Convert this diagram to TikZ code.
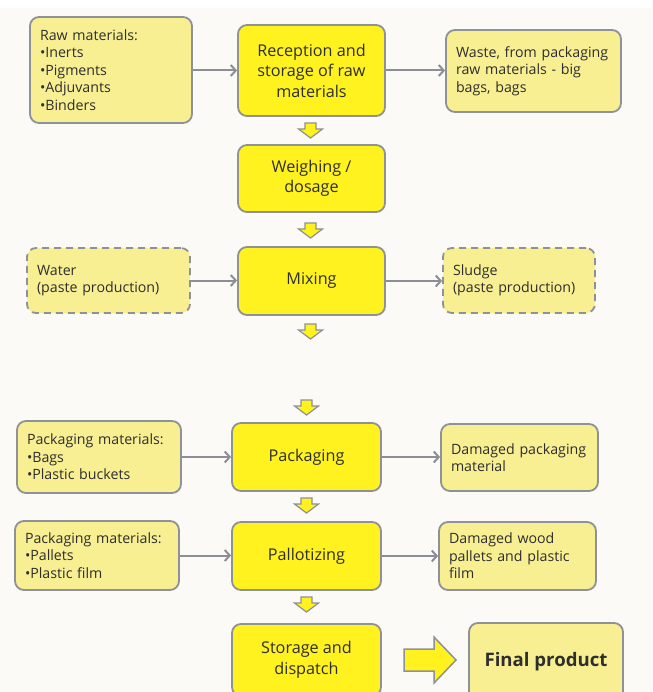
\documentclass[tikz,border=0pt]{standalone}
\usepackage{fontspec}
\setmainfont{Open Sans}
\usetikzlibrary{arrows.meta,calc}
\definecolor{bgc}{HTML}{FBFAF6}
\definecolor{mainy}{HTML}{FFF21E}
\definecolor{sidey}{HTML}{F7EF92}
\definecolor{bordc}{HTML}{8F9198}
\definecolor{arrc}{HTML}{8C8E96}
\definecolor{txtc}{HTML}{2E2E2E}
\tikzset{
  boxbase/.style={draw=bordc, line width=1.8pt, rounded corners=9pt, text=txtc},
  mainbox/.style={boxbase, fill=mainy, align=center, font=\fontsize{16.2}{20.5}\selectfont, minimum width=147pt},
  sidebox/.style={boxbase, fill=sidey, align=left, inner xsep=10pt, font=\fontsize{14.2}{17.5}\selectfont},
  dashbox/.style={sidebox, dash pattern=on 7pt off 5pt},
  connector/.style={draw=arrc, line width=2pt, -{Straight Barb[length=5pt,width=11pt,line width=2pt]}},
  blockarr/.style={fill=mainy, draw=bordc, line width=1.2pt, line join=miter},
}
\newcommand{\downarr}[2]{%
  \draw[blockarr] (#1-5.5,#2) -- (#1+5.5,#2) -- (#1+5.5,#2+6) -- (#1+12,#2+6) -- (#1,#2+15) -- (#1-12,#2+6) -- (#1-5.5,#2+6) -- cycle;}
\begin{document}
\begin{tikzpicture}[x=1pt,y=-1pt]
\useasboundingbox (0,0) rectangle (652,692);
\fill[bgc] (0,0) rectangle (652,692);
\fill[white] (0,0) rectangle (652,8);

% row 1
\node[sidebox, minimum width=162pt, minimum height=106pt, text width=142pt] (raw) at (111,70)
  {Raw materials:\\•Inerts\\•Pigments\\•Adjuvants\\•Binders};
\node[mainbox, minimum height=91pt] (rec) at (311.5,70.5) {Reception and\\storage of raw\\materials};
\node[sidebox, minimum width=175pt, minimum height=82pt, text width=155pt] (waste) at (533.5,71)
  {Waste, from packaging\\raw materials - big\\bags, bags};

% row 2
\node[mainbox, minimum height=67pt] (weigh) at (311.5,178.5) {Weighing /\\dosage};

% row 3
\node[dashbox, minimum width=163pt, minimum height=65pt, text width=143pt] (water) at (108.5,280.5)
  {Water\\(paste production)};
\node[mainbox, minimum height=68pt] (mix) at (311.5,281) {Mixing};
\node[dashbox, minimum width=152pt, minimum height=65pt, text width=132pt] (sludge) at (519,280.5)
  {Sludge\\(paste production)};

% row 4
\node[sidebox, minimum width=164pt, minimum height=72pt, text width=144pt] (packL) at (99,457)
  {Packaging materials:\\•Bags\\•Plastic buckets};
\node[mainbox, minimum width=149pt, minimum height=68pt] (pack) at (306.5,457) {Packaging};
\node[sidebox, minimum width=157pt, minimum height=67pt, text width=137pt] (packR) at (519.5,457.5)
  {Damaged packaging\\material};

% row 5
\node[sidebox, minimum width=164pt, minimum height=69pt, text width=144pt] (pallL) at (97,555.5)
  {Packaging materials:\\•Pallets\\•Plastic film};
\node[mainbox, minimum width=149pt, minimum height=68pt] (pall) at (306.5,556) {Pallotizing};
\node[sidebox, minimum width=157pt, minimum height=68pt, text width=137pt] (pallR) at (517.5,556)
  {Damaged wood\\pallets and plastic\\film};

% row 6
\node[mainbox, minimum width=149pt, minimum height=72pt] (stor) at (306.5,660) {Storage and\\dispatch};
\node[sidebox, minimum width=154pt, minimum height=78pt, align=center, inner xsep=4pt,
      font=\fontsize{18.6}{22}\selectfont\bfseries] (final) at (546,662) {Final product};

% connectors
\draw[connector] (raw.east |- rec.west) -- (rec.west);
\draw[connector] (rec.east) -- (rec.east -| waste.west);
\draw[connector] (water.east) -- (water.east -| mix.west);
\draw[connector] (mix.east) -- (mix.east -| sludge.west);
\draw[connector] (packL.east) -- (packL.east -| pack.west);
\draw[connector] (pack.east) -- (pack.east -| packR.west);
\draw[connector] (pallL.east) -- (pallL.east -| pall.west);
\draw[connector] (pall.east) -- (pall.east -| pallR.west);

% block arrows
\downarr{310.5}{123}
\downarr{310.5}{223}
\downarr{310.5}{324}
\downarr{306.5}{400}
\downarr{306.5}{498}
\downarr{306.5}{597}

% big arrow
\draw[blockarr, line width=1.5pt] (404,649) -- (434,649) -- (434,637) -- (456,660) -- (434,683) -- (434,671) -- (404,671) -- cycle;
\end{tikzpicture}
\end{document}
